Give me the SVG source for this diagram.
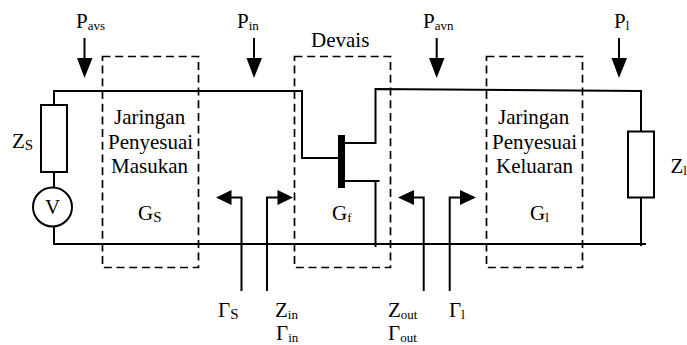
<svg xmlns="http://www.w3.org/2000/svg" width="687" height="345" viewBox="0 0 687 345">
<style>
text{font-family:"Liberation Serif","Times New Roman",serif;font-size:21px;fill:#000}
.s{font-size:13px}
.u{font-size:15px}
.w{fill:none;stroke:#000;stroke-width:2}
.d{fill:none;stroke:#000;stroke-width:1.7;stroke-dasharray:8 4.7}
.h{fill:#000;stroke:none}
</style>
<rect width="687" height="345" fill="#fff"/>
<g id="connectors">
<path class="w" d="M54 105V91H302V158H340"/>
<path class="w" d="M345 143H375.500V89L641 91V131.500"/>
<path class="w" d="M345 181H379.500M375.500 181V247"/>
<path class="w" d="M53 244H646"/>
<path class="w" d="M54 172V187M54 227V244M641 197.500V246"/>
</g>
<g id="power-arrows">
<path class="w" d="M84.500 38V60M254 38V60M436.700 38V60M619 38V60"/>
<path class="h" d="M77 58H92.500L84.500 78ZM246.500 58H262L254 78ZM429 58H444.500L436.700 78ZM611.500 58H627L619 78Z"/>
</g>
<g id="reflection-arrows">
<path class="w" d="M241.500 291V197.500H230M267 291V197.500H278M423.700 291V197.500H413M449.700 291V197.500H461"/>
<path class="h" d="M216 197.500L231.500 190V205ZM293 197.500L277.500 190V205ZM398 197.500L414 190V205ZM476 197.500L460 190V205Z"/>
</g>
<g id="zs">
<rect class="w" x="41" y="105" width="26" height="67"/>
<text x="12" y="148">Z<tspan class="u" dy="2">S</tspan></text>
</g>
<g id="source-v">
<circle class="w" cx="52.500" cy="207" r="19.500"/>
<text x="45" y="214">V</text>
</g>
<g id="input-network">
<rect class="d" x="102.500" y="56.500" width="96" height="211"/>
<text x="114" y="124">Jaringan</text>
<text x="108" y="149">Penyesuai</text>
<text x="111" y="173">Masukan</text>
<text x="138" y="220">G<tspan class="u" dy="2">S</tspan></text>
</g>
<g id="device">
<rect class="d" x="294.500" y="56.500" width="96" height="211"/>
<text x="311" y="47">Devais</text>
<rect x="338" y="135" width="7" height="53" fill="#000"/>
<text x="332" y="220">G<tspan class="s" dy="2">f</tspan></text>
</g>
<g id="output-network">
<rect class="d" x="486.500" y="56.500" width="96" height="211"/>
<text x="498" y="124">Jaringan</text>
<text x="492" y="149">Penyesuai</text>
<text x="496" y="173">Keluaran</text>
<text x="530" y="220">G<tspan class="s" dy="2">l</tspan></text>
</g>
<g id="zl">
<rect class="w" x="628" y="131.500" width="26" height="66"/>
<text x="670.500" y="173">Z<tspan class="s" dy="2">l</tspan></text>
</g>
<g id="labels">
<text x="76" y="28">P<tspan class="s" dy="2">avs</tspan></text>
<text x="237" y="28">P<tspan class="s" dy="2">in</tspan></text>
<text x="423" y="28">P<tspan class="s" dy="2">avn</tspan></text>
<text x="614" y="28">P<tspan class="s" dy="2">l</tspan></text>
<text x="218" y="317">Γ<tspan class="u" dy="2">S</tspan></text>
<text x="275" y="317">Z<tspan class="s" dy="2">in</tspan></text>
<text x="276" y="340">Γ<tspan class="s" dy="1.500">in</tspan></text>
<text x="388" y="317">Z<tspan class="s" dy="2">out</tspan></text>
<text x="388" y="340">Γ<tspan class="s" dy="1.500">out</tspan></text>
<text x="449" y="317">Γ<tspan class="s" dy="2">l</tspan></text>
</g>
</svg>
